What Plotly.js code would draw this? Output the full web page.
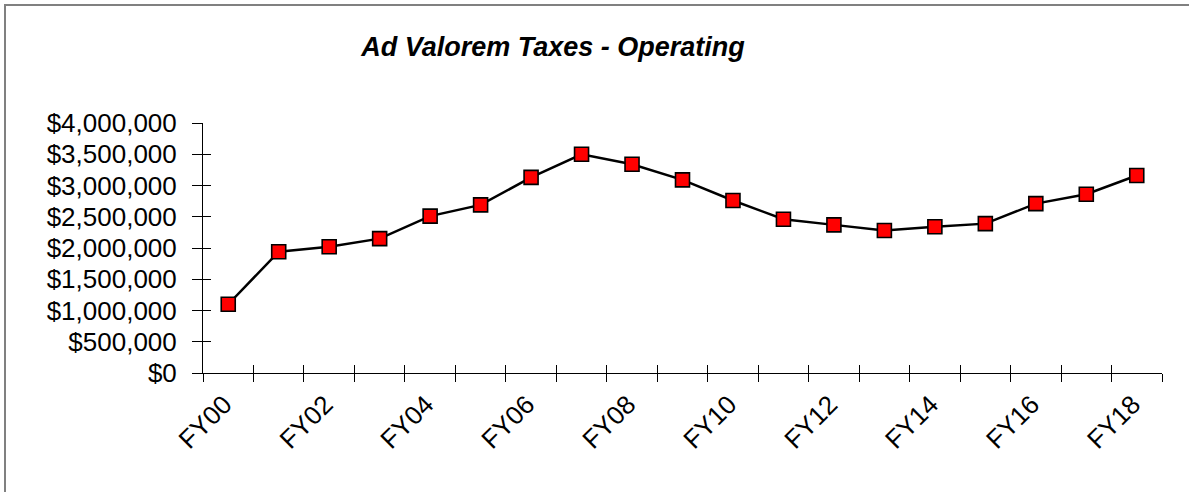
<!DOCTYPE html>
<html>
<head>
<meta charset="utf-8">
<script src="https://cdn.plot.ly/plotly-3.0.1.min.js"></script>
<style>
  html, body { margin: 0; padding: 0; background: #fff; }
  #chart { width: 1189px; height: 492px; }
</style>
</head>
<body>
<div id="chart"></div>
<script>
const categories = ["FY00","FY01","FY02","FY03","FY04","FY05","FY06","FY07","FY08","FY09",
                    "FY10","FY11","FY12","FY13","FY14","FY15","FY16","FY17","FY18"];
const taxes = [1100000, 1940000, 2020000, 2150000, 2510000, 2690000, 3130000, 3500000, 3340000, 3090000,
               2760000, 2460000, 2370000, 2280000, 2340000, 2390000, 2710000, 2860000, 3160000];
const labelEvery = 2;
const chartTitle = "Ad Valorem Taxes - Operating";

const idx = categories.map((c, i) => i);
const labelVals = idx.filter(i => i % labelEvery === 0);
const labelText = labelVals.map(i => categories[i]);
const n = categories.length;

const font = "Liberation Sans, Arial, sans-serif";

const trace = {
  x: idx,
  y: taxes,
  text: categories,
  type: "scatter",
  mode: "lines+markers",
  line: { color: "#000000", width: 2.5 },
  marker: { symbol: "square", size: 14, color: "#FF0000", line: { color: "#000000", width: 1.6 } },
  hovertemplate: "%{text}: $%{y:,.0f}<extra></extra>",
  cliponaxis: false
};

const layout = {
  width: 1189,
  height: 492,
  margin: { l: 203, r: 27, t: 123, b: 119, pad: 0 },
  paper_bgcolor: "#ffffff",
  plot_bgcolor: "#ffffff",
  showlegend: false,
  font: { family: font, color: "#000000" },
  title: {
    text: chartTitle,
    font: { family: font, size: 27, color: "#000000", weight: "bold", style: "italic" },
    xref: "container", yref: "container",
    x: 553 / 1189, xanchor: "center",
    y: 1 - 47 / 492, yanchor: "middle"
  },
  xaxis: {
    range: [-0.5, n - 0.5],
    tickmode: "array",
    tickvals: labelVals,
    ticktext: labelText,
    tickangle: -45,
    ticks: "",
    ticklabelstandoff: 5,
    ticklabelshift: -4,
    showgrid: false,
    zeroline: false,
    showline: true,
    linecolor: "#000000",
    linewidth: 1,
    tickfont: { family: font, size: 26, color: "#000000" },
    minor: { tick0: -0.5, dtick: 1, ticks: "outside", ticklen: 8, tickcolor: "#000000", tickwidth: 1, showgrid: false },
    fixedrange: true
  },
  xaxis2: {
    overlaying: "x",
    anchor: "y",
    side: "bottom",
    range: [-0.5, n - 0.5],
    tick0: -0.5,
    dtick: 1,
    ticks: "inside",
    ticklen: 8,
    tickcolor: "#000000",
    showticklabels: false,
    showgrid: false,
    zeroline: false,
    showline: false,
    fixedrange: true
  },
  yaxis: {
    range: [0, 4000000],
    dtick: 500000,
    tick0: 0,
    tickprefix: "$",
    tickformat: ",d",
    ticks: "outside",
    ticklen: 10,
    tickcolor: "#000000",
    ticklabelstandoff: 10,
    showgrid: false,
    zeroline: false,
    showline: true,
    linecolor: "#000000",
    linewidth: 1,
    tickfont: { family: font, size: 26, color: "#000000" },
    fixedrange: true
  },
  yaxis2: {
    overlaying: "y",
    anchor: "x",
    side: "left",
    range: [0, 4000000],
    dtick: 500000,
    tick0: 0,
    ticks: "inside",
    ticklen: 8,
    tickcolor: "#000000",
    showticklabels: false,
    showgrid: false,
    zeroline: false,
    showline: false,
    fixedrange: true
  },
  shapes: [{
    type: "rect",
    xref: "paper", yref: "paper",
    x0: (5 - 203) / 959, x1: (1200 - 203) / 959,
    y0: (373 - 510) / 250, y1: (373 - 5) / 250,
    line: { color: "#808080", width: 2 },
    fillcolor: "rgba(0,0,0,0)",
    layer: "below"
  }]
};

const ghostX = { x: [0], y: [0], xaxis: "x2", yaxis: "y", mode: "markers", marker: { opacity: 0 }, hoverinfo: "skip", showlegend: false };
const ghostY = { x: [0], y: [0], xaxis: "x", yaxis: "y2", mode: "markers", marker: { opacity: 0 }, hoverinfo: "skip", showlegend: false };

Plotly.newPlot("chart", [ghostX, ghostY, trace], layout, { displayModeBar: false, staticPlot: false });
</script>
</body>
</html>
